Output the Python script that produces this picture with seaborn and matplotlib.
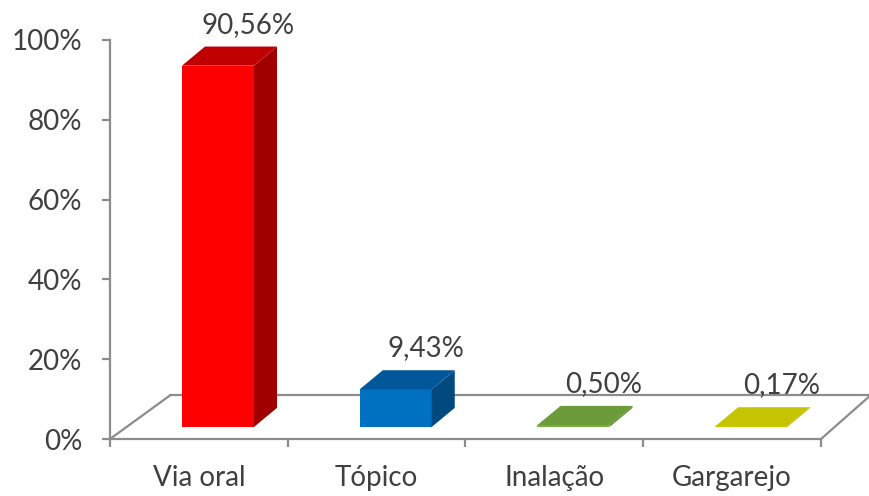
import matplotlib
matplotlib.use("Agg")
import matplotlib.pyplot as plt
from matplotlib.patches import Polygon
from matplotlib.lines import Line2D
from matplotlib.ticker import FixedLocator
import seaborn as sns
import pandas as pd

categories = ["Via oral", "Tópico", "Inalação", "Gargarejo"]
values = [90.56, 9.43, 0.50, 0.17]
value_labels = ["90,56%", "9,43%", "0,50%", "0,17%"]
y_ticks = [0, 20, 40, 60, 80, 100]
y_tick_labels = ["0%", "20%", "40%", "60%", "80%", "100%"]

front_colors = ["#FF0000", "#0070C0", "#7AAE40", "#D2D200"]
side_colors = ["#A00000", "#004A80", "#5E8A30", "#A8A800"]
top_colors = ["#C00000", "#005799", "#6C9C3A", "#C6C400"]

sns.set_theme(style="white")
plt.rcParams["font.family"] = ["Lato", "DejaVu Sans"]
text_color = "#404040"
axis_color = "#8C8C8C"

df = pd.DataFrame({"cat": categories, "val": values})

fig = plt.figure(figsize=(8.7, 4.96), dpi=100)
W, H = 870, 496
left_px, right_px, top_px, bottom_px = 110, 821, 40, 439
ax = fig.add_axes([left_px / W, 1 - bottom_px / H,
                   (right_px - left_px) / W, (bottom_px - top_px) / H])

sns.barplot(data=df, x="cat", y="val", hue="cat", palette=front_colors,
            width=0.405, legend=False, ax=ax, zorder=3)

ax.set_xlim(-0.5, 3.5)
ax.set_ylim(0, 100)

# 3D offsets (data units)
shift_x, shift_y = 0.107, 3.0      # bar plane offset from the floor front
depth_x, depth_y = 0.13, 4.8       # bar depth

patches = sorted(ax.patches, key=lambda p: p.get_x())
for i, p in enumerate(patches):
    x0 = p.get_x() + shift_x
    w = p.get_width()
    h = p.get_height()
    p.set_x(x0)
    p.set_y(shift_y)
    p.set_facecolor(front_colors[i])
    p.set_edgecolor("none")
    x1 = x0 + w
    yb, yt = shift_y, shift_y + h
    side = Polygon([(x1, yb), (x1 + depth_x, yb + depth_y),
                    (x1 + depth_x, yt + depth_y), (x1, yt)],
                   closed=True, facecolor=side_colors[i], edgecolor="none", zorder=3)
    top = Polygon([(x0, yt), (x0 + depth_x, yt + depth_y),
                   (x1 + depth_x, yt + depth_y), (x1, yt)],
                  closed=True, facecolor=top_colors[i], edgecolor="none", zorder=3)
    ax.add_patch(side)
    ax.add_patch(top)
    ax.text(x0 + w / 2 + 0.17, yt + 10.3, value_labels[i], ha="center", va="center",
            fontsize=20, color=text_color, zorder=5)

# floor (3D base plane)
floor_y = 11.0
lx, rx = -0.5 + 0.34, 3.5 + 0.28
for xs, ys in [([-0.5, lx], [0, floor_y]),
               ([lx, rx], [floor_y, floor_y]),
               ([3.5, rx], [0, floor_y])]:
    ax.add_line(Line2D(xs, ys, color=axis_color, lw=1.6, clip_on=False, zorder=1))
ax.add_line(Line2D([-0.5, 3.5], [0, 0], color=axis_color, lw=1.6, clip_on=False, zorder=1))

# axes styling
for s in ["top", "right"]:
    ax.spines[s].set_visible(False)
ax.spines["bottom"].set_visible(False)
ax.spines["left"].set_color(axis_color)
ax.spines["left"].set_linewidth(1.6)

ax.set_yticks(y_ticks)
ax.set_yticklabels(y_tick_labels)
ax.tick_params(axis="y", direction="out", length=6, width=1.6, color=axis_color,
               pad=14, labelsize=20, labelcolor=text_color, left=True)
ax.set_xticks(range(len(categories)))
ax.set_xticklabels(categories)
ax.xaxis.set_minor_locator(FixedLocator([-0.5, 0.5, 1.5, 2.5, 3.5]))
ax.tick_params(axis="x", which="major", length=0, pad=19, labelsize=20,
               labelcolor=text_color, bottom=True)
ax.tick_params(axis="x", which="minor", direction="out", length=6, width=1.6,
               color=axis_color, bottom=True)
ax.set_xlabel("")
ax.set_ylabel("")
ax.grid(False)

fig.savefig("out.png", dpi=100)
